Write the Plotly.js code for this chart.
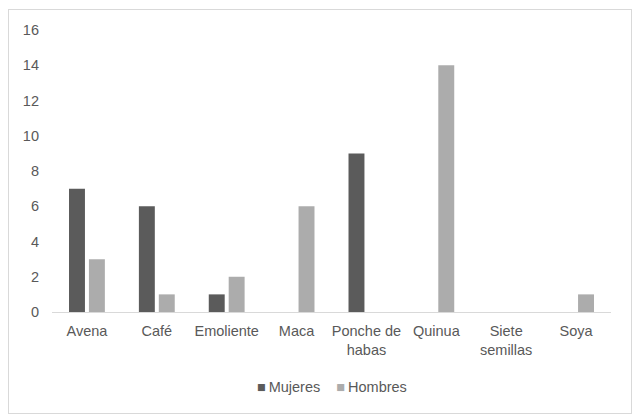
<!DOCTYPE html>
<html><head><meta charset="utf-8">
<script src="https://cdn.plot.ly/plotly-3.0.1.min.js"></script>
<style>
html,body{margin:0;padding:0;background:#fff;}
#wrap{position:relative;width:642px;height:420px;}
#chart{position:absolute;left:0;top:0;width:642px;height:420px;}
#frame{position:absolute;left:8px;top:9px;width:622px;height:403px;border:1px solid #d9d9d9;pointer-events:none;}
</style></head>
<body>
<div id="wrap"><div id="chart"></div><div id="frame"></div></div>
<script>
const categories = ["Avena","Café","Emoliente","Maca","Ponche de<br>habas","Quinua","Siete<br>semillas","Soya"];
const seriesNames = ["Mujeres","Hombres"];
const mujeres = [7,6,1,0,9,0,0,0];
const hombres = [3,1,2,6,0,14,0,1];
const yTicks = [0,2,4,6,8,10,12,14,16];
const colors = ["#5b5b5b","#acacac"];

const font = {family:"Liberation Sans, Arial, sans-serif", size:14.5, color:"#595959"};
const data = [
  {type:"bar", name:seriesNames[0], x:categories, y:mujeres, marker:{color:colors[0]}, showlegend:false},
  {type:"bar", name:seriesNames[1], x:categories, y:hombres, marker:{color:colors[1]}, showlegend:false}
];
const legendText = seriesNames.map((n,i)=>'<span style="color:'+colors[i]+'">■</span>\u2009'+n).join('\u00a0\u00a0\u00a0\u00a0');
const layout = {
  width:642, height:420,
  margin:{l:52, r:31, t:30, b:108},
  paper_bgcolor:"#ffffff", plot_bgcolor:"#ffffff",
  font:font,
  barmode:"group", bargap:0.43, bargroupgap:0.2,
  showlegend:false,
  annotations:[{xref:"paper", yref:"paper", x:0.5, y:-0.266, xanchor:"center", yanchor:"middle", showarrow:false, text:legendText, font:font}],
  xaxis:{type:"category", showgrid:false, showline:true, linecolor:"#d9d9d9", linewidth:1, ticks:"", tickfont:font, ticklabelstandoff:6, zeroline:false},
  yaxis:{range:[0,16], tickvals:yTicks, showgrid:false, zeroline:false, showline:false, ticks:"", tickfont:font, ticklabelstandoff:12}
};
Plotly.newPlot("chart", data, layout, {displayModeBar:false, staticPlot:true});
</script>
</body></html>
